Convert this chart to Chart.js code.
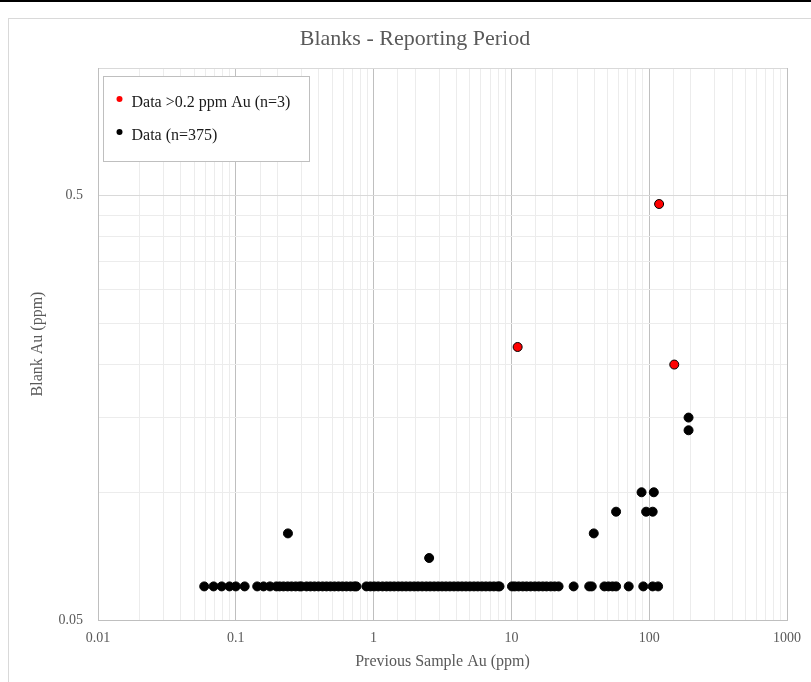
<!DOCTYPE html>
<html>
<head>
<meta charset="utf-8">
<script src="https://cdn.jsdelivr.net/npm/chart.js@4.4.1/dist/chart.umd.min.js"></script>
<style>
  html, body { margin: 0; padding: 0; background: #fff; }
  body { width: 811px; height: 682px; position: relative; overflow: hidden; }
  #topLine { position: absolute; left: 0; top: 0; width: 811px; height: 2px; background: #000; }
  #frame { position: absolute; left: 8px; top: 18px; width: 803px; height: 664px; border-left: 1px solid #d9d9d9; border-top: 1px solid #d9d9d9; }
  canvas { display: block; }
</style>
</head>
<body>
<div id="topLine"></div>
<div id="frame"><canvas id="id-chartBlanks" width="802" height="663"></canvas></div>
<script>
var chartTitle = "Blanks - Reporting Period";
var xAxisTitle = "Previous Sample Au (ppm)";
var yAxisTitle = "Blank Au (ppm)";
var highLabel = "Data >0.2 ppm Au (n=3)";
var dataLabel = "Data (n=375)";

// blanks above 0.2 ppm
var highX = [11.1, 118, 152];
var highY = [0.22, 0.478, 0.2];

// remaining blanks
var dataX = [193, 193, 88, 108, 57.5, 95, 106, 39.6, 0.239, 2.53,
  0.059, 0.069, 0.079, 0.09, 0.1, 0.116, 0.143, 0.159, 0.177, 0.197,
  0.208, 0.222, 0.238, 0.254, 0.272, 0.29, 0.30, 0.326, 0.348, 0.372,
  0.398, 0.426, 0.455, 0.486, 0.52, 0.556, 0.594, 0.635, 0.679, 0.725,
  0.75, 0.886, 0.947, 1.01, 1.08, 1.16, 1.24, 1.32, 1.41, 1.51,
  1.61, 1.72, 1.84, 1.97, 2.1, 2.25, 2.41, 2.57, 2.75, 2.94,
  3.14, 3.35, 3.58, 3.83, 4.1, 4.38, 4.68, 5.0, 5.35, 5.71,
  6.11, 6.53, 6.98, 7.46, 7.97, 8.2, 10.1, 10.6, 11.3, 12.1,
  12.9, 13.8, 14.8, 15.8, 16.9, 18.0, 19.3, 20.6, 22.0, 28.3,
  36.7, 38.3, 47.3, 50.6, 54.1, 57.5, 71, 90.6, 106, 116];
var dataY = [0.15, 0.14, 0.1, 0.1, 0.09, 0.09, 0.09, 0.08, 0.08, 0.07,
  0.06, 0.06, 0.06, 0.06, 0.06, 0.06, 0.06, 0.06, 0.06, 0.06,
  0.06, 0.06, 0.06, 0.06, 0.06, 0.06, 0.06, 0.06, 0.06, 0.06,
  0.06, 0.06, 0.06, 0.06, 0.06, 0.06, 0.06, 0.06, 0.06, 0.06,
  0.06, 0.06, 0.06, 0.06, 0.06, 0.06, 0.06, 0.06, 0.06, 0.06,
  0.06, 0.06, 0.06, 0.06, 0.06, 0.06, 0.06, 0.06, 0.06, 0.06,
  0.06, 0.06, 0.06, 0.06, 0.06, 0.06, 0.06, 0.06, 0.06, 0.06,
  0.06, 0.06, 0.06, 0.06, 0.06, 0.06, 0.06, 0.06, 0.06, 0.06,
  0.06, 0.06, 0.06, 0.06, 0.06, 0.06, 0.06, 0.06, 0.06, 0.06,
  0.06, 0.06, 0.06, 0.06, 0.06, 0.06, 0.06, 0.06, 0.06, 0.06];

// y gridlines (Excel style minor units) and the labelled ones
var yGrid = [0.05, 0.1, 0.15, 0.2, 0.25, 0.3, 0.35, 0.4, 0.45, 0.5, 1];
var yLabels = [0.05, 0.5];

var textColor = "#595959";
var fontFamily = "'Liberation Serif', 'Times New Roman', serif";

function isPow10(v) {
  var l = Math.log10(v);
  return Math.abs(l - Math.round(l)) < 1e-6;
}
function toPoints(xs, ys) {
  return xs.map(function(x, i) { return {x: x, y: ys[i]}; });
}

// title centred on the whole chart frame (Excel centres it on the frame, not the plot)
var frameTitle = {
  id: "frameTitle",
  afterDraw: function(chart) {
    var c = chart.ctx;
    c.save();
    c.fillStyle = textColor;
    c.font = "22px " + fontFamily;
    c.textAlign = "center";
    c.textBaseline = "middle";
    c.fillText(chartTitle, chart.width / 2 + 5, 20);
    c.restore();
  }
};

// legend drawn as a box inside the plot area, like the Excel original
var legendBox = {
  id: "legendBox",
  afterDraw: function(chart) {
    var c = chart.ctx, a = chart.chartArea;
    var x = a.left + 4.5, y = a.top + 8, w = 206, h = 85;
    c.save();
    c.fillStyle = "#fff";
    c.fillRect(x, y, w, h);
    c.strokeStyle = "#bfbfbf";
    c.lineWidth = 1;
    c.strokeRect(Math.round(x) + 0.5, Math.round(y) + 0.5, w, h);
    c.font = "16px " + fontFamily;
    c.textBaseline = "middle";
    chart.data.datasets.forEach(function(ds, i) {
      var cy = y + 27 + i * 33;
      c.fillStyle = ds.backgroundColor;
      c.beginPath();
      c.arc(x + 17, cy - 4, 3, 0, 2 * Math.PI);
      c.fill();
      c.fillStyle = "#1a1a1a";
      c.fillText(ds.label, x + 29, cy);
    });
    c.restore();
  }
};

// ----------------------------- chart start -----------------------------
new Chart("id-chartBlanks", {
  type: "scatter",
  data: {
    datasets: [{
      label: highLabel,
      data: toPoints(highX, highY),
      backgroundColor: "#ff0000",
      borderColor: "#000",
      borderWidth: 1,
      pointRadius: 4.5
    }, {
      label: dataLabel,
      data: toPoints(dataX, dataY),
      backgroundColor: "#000",
      borderColor: "#000",
      borderWidth: 1,
      pointRadius: 4.5
    }]
  },
  options: {
    responsive: false,
    animation: false,
    devicePixelRatio: 1,
    layout: {padding: {left: 0, right: 22, top: 49, bottom: 0}},
    plugins: {
      legend: {display: false},
      tooltip: {enabled: false},
      title: {display: false}
    },
    scales: {
      x: {
        type: "logarithmic",
        position: "bottom",
        min: 0.01,
        max: 1000,
        border: {color: "#bfbfbf"},
        grid: {
          drawTicks: false,
          color: function(ctx) { return isPow10(ctx.tick.value) ? "#bfbfbf" : "#ececec"; }
        },
        ticks: {
          autoSkip: false,
          maxRotation: 0,
          padding: 10,
          color: textColor,
          font: {family: fontFamily, size: 14},
          callback: function(v) { return isPow10(v) ? String(Number(v.toPrecision(6))) : ""; }
        },
        title: {
          display: true,
          text: xAxisTitle,
          color: textColor,
          font: {family: fontFamily, size: 16},
          padding: {top: 0, bottom: 11}
        },
        afterFit: function(s) { s.height = 62; }
      },
      y: {
        type: "logarithmic",
        min: 0.05,
        max: 1,
        border: {color: "#bfbfbf"},
        afterBuildTicks: function(s) {
          s.ticks = yGrid.map(function(v) { return {value: v}; });
        },
        grid: {
          drawTicks: false,
          color: function(ctx) { return yLabels.indexOf(ctx.tick.value) >= 0 || ctx.tick.value === 1 ? "#d9d9d9" : "#ececec"; }
        },
        ticks: {
          autoSkip: false,
          padding: 15,
          color: textColor,
          font: {family: fontFamily, size: 14},
          callback: function(v) { return yLabels.indexOf(v) >= 0 ? String(v) : ""; }
        },
        title: {
          display: true,
          text: yAxisTitle,
          color: textColor,
          font: {family: fontFamily, size: 16},
          padding: {top: 19, bottom: 0}
        },
        afterFit: function(s) { s.width = 89; }
      }
    }
  },
  plugins: [frameTitle, legendBox]
});
// ----------------------------- chart end -----------------------------
</script>
</body>
</html>
